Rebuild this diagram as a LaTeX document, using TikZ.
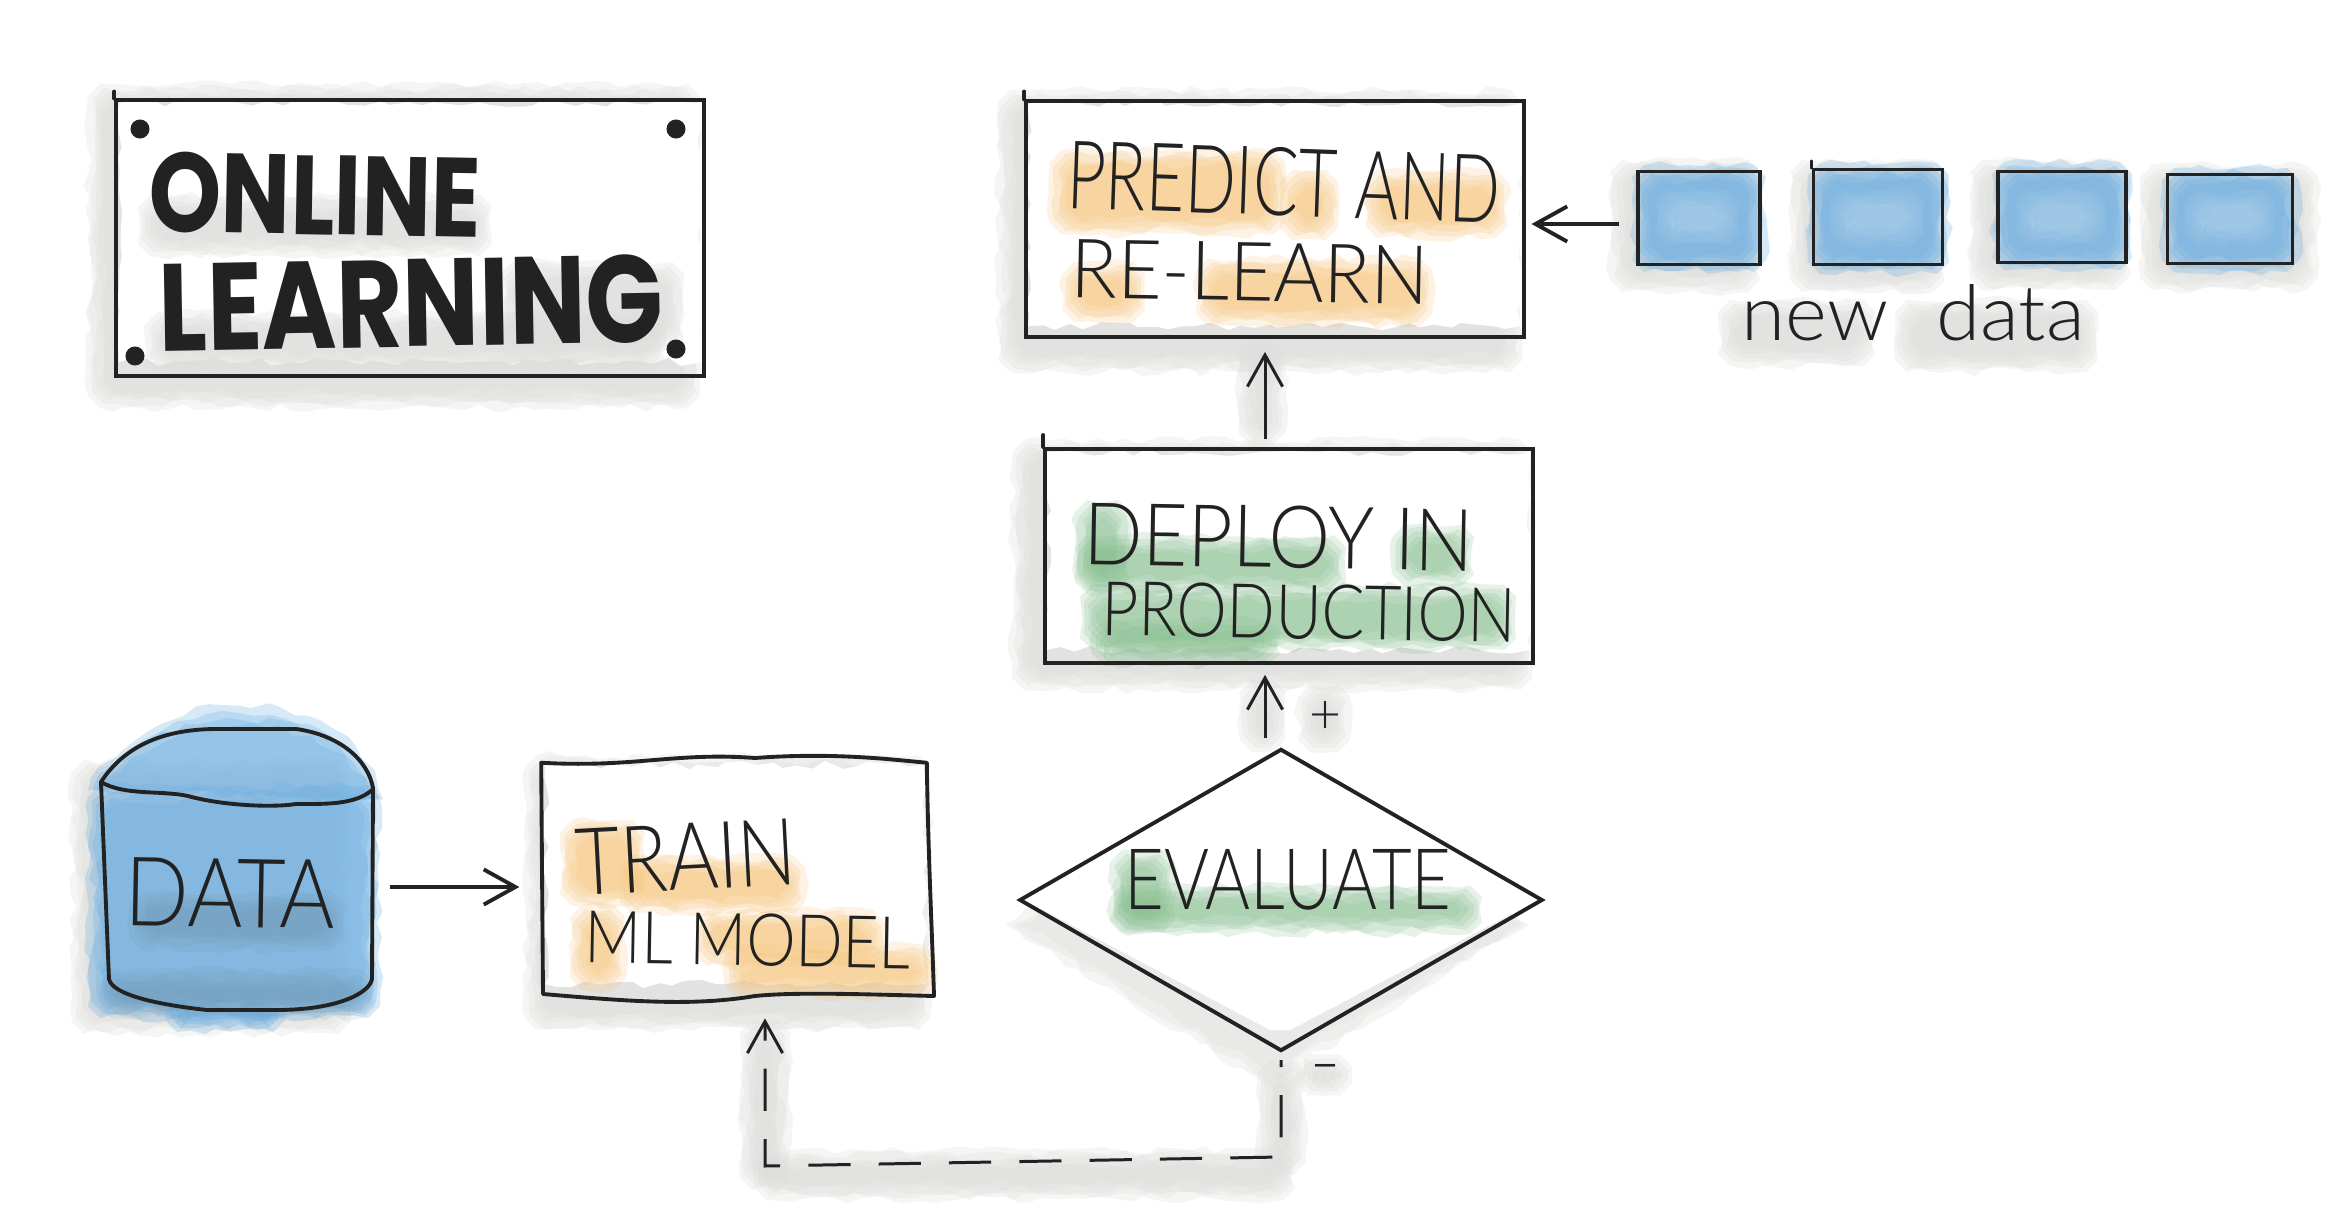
\documentclass[tikz,border=0pt]{standalone}
\usepackage{graphicx}
\usepackage{fontspec}
\usetikzlibrary{arrows.meta,calc}
\usetikzlibrary{decorations.pathmorphing}
\usetikzlibrary{shapes.geometric}

\newfontfamily\handfont{Lato Light}
\newfontfamily\titlefont{Poppins}[BoldFont={Poppins Bold}]

\definecolor{inkblack}{HTML}{222222}
\definecolor{shadowgray}{HTML}{DEDEDC}
\definecolor{paintorange}{HTML}{F6C274}
\definecolor{paintgreen}{HTML}{86BE8E}
\definecolor{paintblue}{HTML}{6FB0E2}
\definecolor{paintdusk}{HTML}{6F93AE}

\tikzset{
  rough/.style={decorate,decoration={random steps,segment length=4pt,amplitude=1.2pt}},
  shadowwash/.style={rough,fill=shadowgray,fill opacity=.3},
  orangewash/.style={rough,fill=paintorange,fill opacity=.2},
  greenwash/.style={rough,fill=paintgreen,fill opacity=.2},
  bluewash/.style={rough,fill=paintblue,fill opacity=.28},
  glazewash/.style={rough,fill=white,fill opacity=.05},
  duskwash/.style={rough,fill=paintdusk,fill opacity=.12},
  paper/.style={rough,fill=white},
  box/.style={draw=inkblack,line width=1.1pt,inner sep=0pt},
  hand/.style={inner sep=0pt,text=inkblack,font=\handfont},
  pin/.style={circle,fill=inkblack,inner sep=0pt,minimum size=.19cm},
  flow/.style={-{Straight Barb[length=9pt,width=10pt]},draw=inkblack,line width=.85pt},
  ink/.style={draw=inkblack,line width=1.1pt,line join=round,line cap=round},
}

% one layer: style, two corners, with the corners cut off
\newcommand{\patch}[5]{
  \fill[#1] (#2+12,#3) -- (#4-12,#3) -- (#4,#3+12) -- (#4,#5-12) -- (#4-12,#5) -- (#2+12,#5) -- (#2,#5-12) -- (#2,#3+12) -- cycle;
}
% soft edged patch
\newcommand{\wash}[5]{
  \patch{#1}{#2}{#3}{#4}{#5}
  \patch{#1}{#2+4}{#3+4}{#4-4}{#5-4}
  \patch{#1}{#2+8}{#3+8}{#4-8}{#5-8}
  \patch{#1}{#2+12}{#3+12}{#4-12}{#5-12}
  \patch{#1}{#2+16}{#3+16}{#4-16}{#5-16}
}

\begin{document}
\begin{tikzpicture}[x=0.01cm,y=-0.01cm]
    \pgfmathsetseed{11}
    \path[use as bounding box,fill=white] (0,0) rectangle (2335,1224);

    % shadows first
    \wash{shadowwash}{88}{84}{700}{408}
    \wash{shadowwash}{998}{90}{1522}{372}
    \wash{shadowwash}{1012}{440}{1532}{690}
    \wash{shadowwash}{525}{755}{930}{1030}
    \wash{shadowwash}{1610}{160}{1760}{292}
    \wash{shadowwash}{1790}{160}{1945}{292}
    \wash{shadowwash}{1970}{160}{2128}{290}
    \wash{shadowwash}{2140}{165}{2318}{290}
    \wash{shadowwash}{1718}{300}{1875}{366}
    \wash{shadowwash}{1895}{300}{2098}{372}
    \wash{shadowwash}{1238}{340}{1285}{445}
    \wash{shadowwash}{1240}{680}{1285}{752}
    \wash{shadowwash}{1298}{685}{1350}{752}
    \wash{shadowwash}{1296}{1055}{1352}{1095}
    \wash{shadowwash}{740}{1020}{790}{1190}
    \wash{shadowwash}{755}{1150}{1295}{1200}
    \wash{shadowwash}{1258}{1060}{1305}{1175}
    \wash{shadowwash}{72}{760}{350}{1034}

    % diamond shadow
    \fill[shadowwash] (1270,765) -- (1005,925) -- (1265,1085) -- (1530,925) -- cycle;
    \fill[shadowwash] (1275,775) -- (1012,925) -- (1265,1078) -- (1525,925) -- cycle;
    \fill[shadowwash] (1278,785) -- (1020,925) -- (1265,1070) -- (1520,925) -- cycle;

    % paper inside the boxes
    \fill[paper] (119,103) rectangle (702,362);
    \fill[paper] (1028,104) rectangle (1521,326);
    \fill[paper] (1047,452) rectangle (1530,650);
    \fill[paper] (545,765) rectangle (925,984);
    \fill[white] (1281,751) -- (1024,900) -- (1270,1030) -- (1290,1030) -- (1538,900) -- cycle;

    % letters' shadows in the title
    \wash{shadowwash}{138}{195}{492}{256}
    \wash{shadowwash}{145}{312}{665}{372}
    \wash{shadowwash}{500}{262}{684}{350}

    % paint under the labels
    \wash{orangewash}{1050}{150}{1285}{235}
    \wash{orangewash}{1280}{170}{1338}{240}
    \wash{orangewash}{1365}{170}{1508}{238}
    \wash{orangewash}{1062}{262}{1145}{322}
    \wash{orangewash}{1196}{258}{1432}{326}
    \wash{greenwash}{1075}{500}{1130}{590}
    \wash{greenwash}{1075}{535}{1346}{594}
    \wash{greenwash}{1392}{525}{1474}{586}
    \wash{greenwash}{1080}{585}{1516}{650}
    \wash{greenwash}{1092}{620}{1280}{666}
    \wash{orangewash}{560}{820}{645}{906}
    \wash{orangewash}{620}{855}{805}{914}
    \wash{orangewash}{570}{905}{626}{990}
    \wash{orangewash}{695}{910}{885}{966}
    \wash{orangewash}{725}{945}{936}{998}
    \wash{greenwash}{1110}{850}{1175}{932}
    \wash{greenwash}{1110}{885}{1482}{934}

    % cylinder
    \wash{bluewash}{88}{785}{380}{1018}
    \wash{bluewash}{165}{1000}{285}{1032}
    \fill[bluewash] (88,790) .. controls (120,735) and (170,706) .. (240,706)
        .. controls (320,706) and (372,745) .. (382,800) -- cycle;
    \fill[bluewash] (92,790) .. controls (125,742) and (170,714) .. (240,714)
        .. controls (320,714) and (368,750) .. (378,800) -- cycle;
    \fill[bluewash] (96,790) .. controls (130,748) and (170,720) .. (240,720)
        .. controls (320,720) and (364,755) .. (374,800) -- cycle;
    \fill[bluewash] (100,790) .. controls (135,752) and (170,726) .. (240,726)
        .. controls (320,726) and (360,760) .. (370,800) -- cycle;
    \wash{duskwash}{130}{892}{345}{950}
    \wash{duskwash}{100}{970}{375}{1018}

    % small squares
    \wash{bluewash}{1632}{165}{1766}{272}
    \wash{bluewash}{1808}{163}{1949}{274}
    \wash{bluewash}{1992}{162}{2132}{270}
    \wash{bluewash}{2162}{168}{2299}{272}
    \wash{glazewash}{1655}{190}{1740}{245}
    \wash{glazewash}{1830}{190}{1925}{245}
    \wash{glazewash}{2015}{190}{2105}{245}
    \wash{glazewash}{2185}{190}{2275}{245}

    \node[box,minimum width=5.87cm,minimum height=2.75cm] (title) at (410,238) {};
    \node[box,minimum width=4.97cm,minimum height=2.35cm] (predict) at (1275,219) {};
    \node[box,minimum width=4.87cm,minimum height=2.14cm] (deploy) at (1289,556) {};
    \node[minimum width=3.84cm,minimum height=2.33cm,inner sep=0pt] (train) at (734,880) {};
    \node[box,diamond,shape aspect=1.73,minimum width=5.23cm,minimum height=3.02cm] (evaluate) at (1281,900) {};
    \node[minimum width=2.74cm,minimum height=2.8cm,inner sep=0pt] (datacyl) at (238,870) {};

    \node[box,minimum width=1.22cm,minimum height=.93cm] (newa) at (1699,218) {};
    \node[box,minimum width=1.29cm,minimum height=.95cm] (newb) at (1878,217) {};
    \node[box,minimum width=1.28cm,minimum height=.91cm] (newc) at (2062,217) {};
    \node[box,minimum width=1.25cm,minimum height=.89cm] (newd) at (2230,219) {};

    % the four pins
    \node[pin] (pina) at (140,129) {};
    \node[pin] (pinb) at (676,129) {};
    \node[pin] (pinc) at (135,356) {};
    \node[pin] (pind) at (676,349) {};

    % hand drawn outlines
    \draw[ink] (train.north west) .. controls (635,768) and (675,752) .. (755,758)
        .. controls (835,752) and (895,760) .. (train.north east)
        .. controls (928,850) and (932,930) .. (934,996)
        .. controls (855,994) and (795,992) .. (755,996)
        .. controls (695,1006) and (635,1002) .. (543,994) -- cycle;
    \draw[ink] (101,782) .. controls (125,745) and (165,729) .. (217,729)
        -- (296,729) .. controls (340,735) and (368,760) .. (373,788)
        -- (372,979) .. controls (370,992) and (340,1010) .. (276,1010)
        -- (207,1010) .. controls (160,1005) and (112,995) .. (109,979) -- cycle;
    \draw[ink] (101,782) .. controls (125,796) and (160,790) .. (188,796)
        .. controls (220,805) and (270,808) .. (296,804)
        .. controls (325,804) and (355,805) .. (372,790);

    % little overshoots at the corners
    \draw[ink] (title.north west) -- ++(0,-7);
    \draw[ink] (predict.north west) -- ++(0,-8);
    \draw[ink] (deploy.north west) -- ++(0,-12);
    \draw[ink] (newb.north west) -- ++(0,-6);

    \node[text=inkblack,inner sep=0pt,font=\titlefont\bfseries] (online) at (315,195) [rotate=-1] {\resizebox{3.32cm}{.8cm}{ONLINE}};
    \node[text=inkblack,inner sep=0pt,font=\titlefont\bfseries] (learning) at (411,303) [rotate=1] {\resizebox{5.04cm}{.88cm}{LEARNING}};

    \node[hand] (predictl) at (1284,182) [rotate=-2] {\resizebox{4.33cm}{.68cm}{PREDICT AND}};
    \node[hand] (relearn) at (1250,272) [rotate=-1] {\resizebox{3.57cm}{.58cm}{RE-LEARN}};
    \node[hand] (deployl) at (1279,537) [rotate=-1] {\resizebox{3.9cm}{.62cm}{DEPLOY IN}};
    \node[hand] (production) at (1309,612) [rotate=-1] {\resizebox{4.14cm}{.54cm}{PRODUCTION}};
    \node[hand] (trainl) at (686,857) [rotate=3] {\resizebox{2.2cm}{.66cm}{TRAIN}};
    \node[hand] (model) at (748,940) [rotate=-1] {\resizebox{3.25cm}{.52cm}{ML MODEL}};
    \node[hand] (evaluatel) at (1288,880) {\resizebox{3.27cm}{.6cm}{EVALUATE}};
    \node[hand] (datal) at (230,893) [rotate=-1] {\resizebox{2.1cm}{.68cm}{DATA}};
    \node[hand,anchor=south] (newdata) at (1913,342) {\resizebox{3.43cm}{.56cm}{new\hspace{.6em}data}};
    \node[hand] (plus) at (1326,717) {\resizebox{.32cm}{.32cm}{+}};
    \node[hand] (minus) at (1326,1074) {\resizebox{.32cm}{.2cm}{-}};

    % connectors
    \coordinate (dataout) at (390,887);
    \coordinate (newout) at (1619,224);
    \coordinate (deployout) at (1265,439);
    \coordinate (evalout) at (1265,738);
    \coordinate (loopa) at (1281,1157);
    \coordinate (loopb) at (765,1166);

    \draw[flow,line width=1.1pt,shorten >=6.2pt] (dataout) -- (dataout -| train.west);
    \draw[flow,line width=1.1pt,shorten >=1.7pt] (newout) -- (newout -| predict.east);
    \draw[flow,shorten >=3.8pt] (deployout) -- (deployout |- predict.south);
    \draw[flow,shorten >=2.8pt] (evalout) -- (evalout |- deploy.south);
    \draw[flow,dash pattern=on 12pt off 8pt,dash phase=10pt,shorten <=2pt,shorten >=6pt] (evaluate.south) -- (loopa) -- (loopb) -- (loopb |- train.south);
\end{tikzpicture}
\end{document}
